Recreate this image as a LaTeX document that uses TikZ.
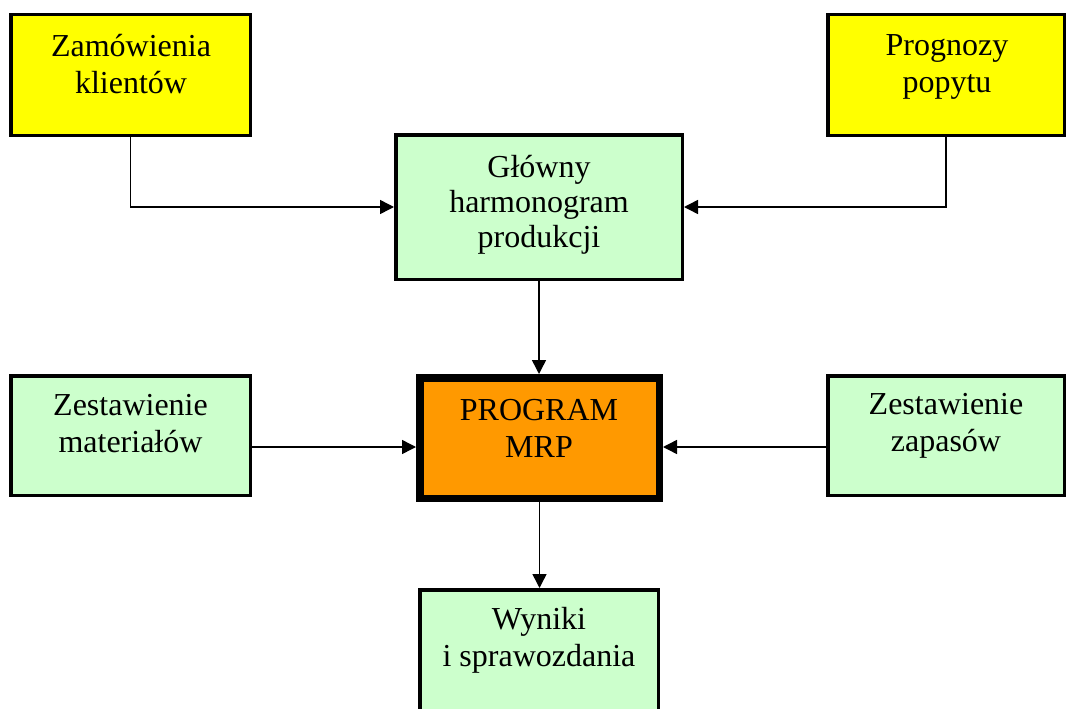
\documentclass[tikz,border=0pt]{standalone}
\usepackage{fontspec}
\setmainfont{Liberation Serif}
\usetikzlibrary{arrows.meta}
\definecolor{boxyellow}{HTML}{FFFF00}
\definecolor{boxgreen}{HTML}{CCFFCC}
\definecolor{boxorange}{HTML}{FF9900}
\tikzset{
  box/.style={draw=black, line width=3.5pt, inner sep=0pt, rectangle},
  ybox/.style={box, fill=boxyellow},
  gbox/.style={box, fill=boxgreen},
  obox/.style={draw=black, line width=7.5pt, fill=boxorange, inner sep=0pt, rectangle},
  lbl/.style={align=center, inner sep=0pt, font=\fontsize{32}{37}\selectfont},
  lbltight/.style={align=center, inner sep=0pt, font=\fontsize{32}{35}\selectfont},
  arr/.style={draw=black, line width=1.5pt, -{Triangle[length=14pt,width=14pt]}},
}
\begin{document}
\begin{tikzpicture}[x=1pt, y=-1pt]
  \path[use as bounding box] (0,0) rectangle (1066,709);
  \clip (0,0) rectangle (1066,709);
  % boxes
  \node[ybox, minimum width=239.5pt, minimum height=120.5pt] (zk) at (130.5,75) {};
  \node[ybox, minimum width=236.5pt, minimum height=120.5pt] (pp) at (946,75) {};
  \node[gbox, minimum width=286.5pt, minimum height=144.5pt] (gh) at (539,207) {};
  \node[gbox, minimum width=239.5pt, minimum height=119.5pt] (zm) at (130.5,435.5) {};
  \node[gbox, minimum width=236.5pt, minimum height=119.5pt] (zz) at (946,435.5) {};
  \node[obox, minimum width=239.5pt, minimum height=120.5pt] (mrp) at (539.5,438) {};
  \node[gbox, minimum width=238.5pt, minimum height=168.5pt] (wy) at (539,674) {};
  % labels
  \node[lbl] (t-zk) at (131,67.3) {\strut Zamówienia\\\strut klientów};
  \node[lbl] (t-pp) at (947,66.5) {\strut Prognozy\\\strut popytu};
  \node[lbltight] (t-gh) at (539,205.5) {\strut Główny\\\strut harmonogram\\\strut produkcji};
  \node[lbl] (t-zm) at (130.5,426.5) {\strut Zestawienie\\\strut materiałów};
  \node[lbl] (t-mrp) at (539,431.6) {\strut PROGRAM\\\strut MRP};
  \node[lbl] (t-zz) at (946,426) {\strut Zestawienie\\\strut zapasów};
  \node[lbl] (t-wy) at (539,641) {\strut Wyniki\\\strut i sprawozdania};
  % connectors
  \coordinate (hl) at (0,447);
  \draw[arr] (zk.south) |- (gh.west);
  \draw[arr] (pp.south) |- (gh.east);
  \draw[arr] (gh.south) -- (gh.south |- mrp.north);
  \draw[arr] (zm.east |- hl) -- (mrp.west |- hl);
  \draw[arr] (zz.west |- hl) -- (mrp.east |- hl);
  \draw[arr] (mrp.south) -- (mrp.south |- wy.north);
\end{tikzpicture}
\end{document}
